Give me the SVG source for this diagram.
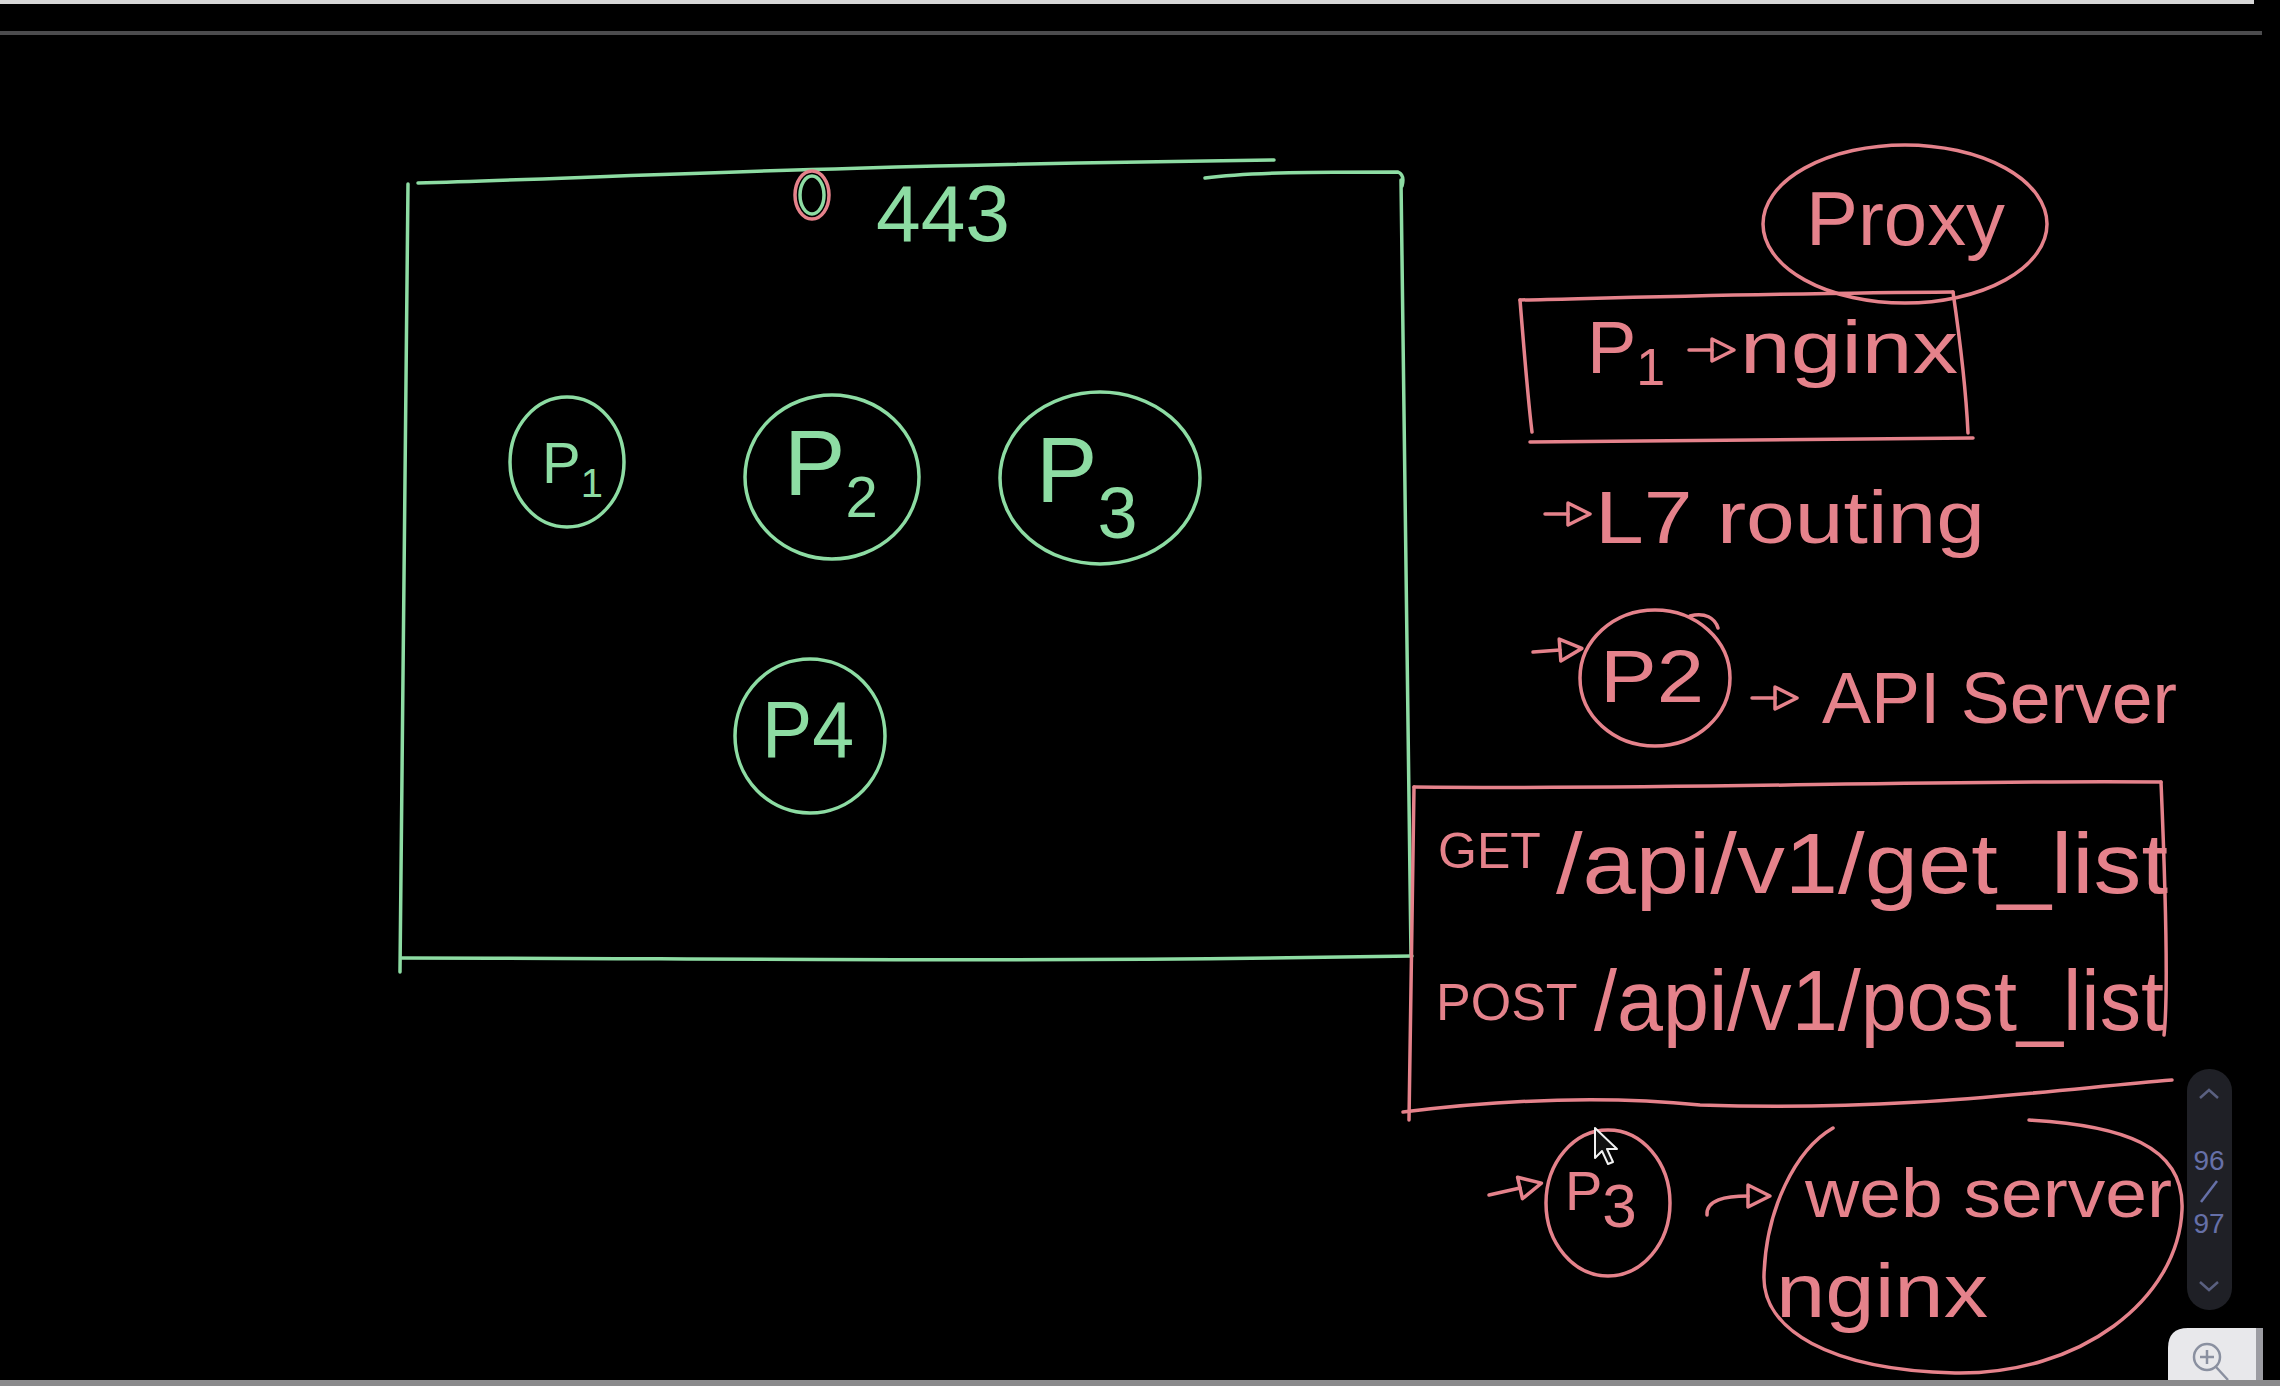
<svg xmlns="http://www.w3.org/2000/svg" width="2280" height="1386" viewBox="0 0 2280 1386">
<style>
.g{fill:none;stroke:#8ddca3;stroke-width:3.5;stroke-linecap:round;stroke-linejoin:round}
.r{fill:none;stroke:#e5828b;stroke-width:3.5;stroke-linecap:round;stroke-linejoin:round}
.gt{fill:#8ddca3;font-family:"Liberation Sans",Arial,sans-serif}
.rt{fill:#e5828b;font-family:"Liberation Sans",Arial,sans-serif}
.ui{fill:#6670a8;font-family:"Liberation Sans",Arial,sans-serif;font-size:28px;text-anchor:middle}
</style>
<defs>
<marker id="tri" markerUnits="userSpaceOnUse" markerWidth="30" markerHeight="30" viewBox="0 0 30 30" refX="4" refY="15" orient="auto">
<path d="M4 4 L26 15 L4 26 Z" fill="none" stroke="#e5828b" stroke-width="3.5" stroke-linejoin="round"/>
</marker>
</defs>
<rect x="0" y="0" width="2280" height="1386" fill="#000"/>
<rect x="0" y="0" width="2254" height="4" fill="#d8d8d8"/>
<rect x="0" y="31" width="2262" height="4" fill="#4c4c4e"/>

<g id="pod-box">
<path class="g" d="M418 183 C600 178 800 166 1274 160"/>
<path class="g" d="M1205 178 C1250 172 1320 172 1398 172 Q1405 175 1402 186"/>
<path class="g" d="M1401 180 L1411 956"/>
<path class="g" d="M408 184 L400 972"/>
<path class="g" d="M402 958 C700 958 1000 963 1412 956"/>
</g>

<g id="port-443">
<ellipse class="g" cx="812" cy="195" rx="12" ry="19"/>
<ellipse class="r" cx="812" cy="195" rx="17" ry="24"/>
<text class="gt" x="876" y="241" font-size="80" textLength="134" lengthAdjust="spacingAndGlyphs">443</text>
</g>

<g id="p1">
<ellipse class="g" cx="567" cy="462" rx="57" ry="65"/>
<text class="gt" x="542" y="483" font-size="58">P<tspan font-size="40" dy="14">1</tspan></text>
</g>
<g id="p2">
<ellipse class="g" cx="832" cy="477" rx="87" ry="82"/>
<text class="gt" x="784" y="495" font-size="92">P<tspan font-size="58" dy="22">2</tspan></text>
</g>
<g id="p3">
<ellipse class="g" cx="1100" cy="478" rx="100" ry="86"/>
<text class="gt" x="1036" y="502" font-size="92">P<tspan font-size="72" dy="36">3</tspan></text>
</g>
<g id="p4">
<ellipse class="g" cx="810" cy="736" rx="75" ry="77"/>
<text class="gt" x="762" y="757" font-size="80" textLength="92" lengthAdjust="spacingAndGlyphs">P4</text>
</g>

<g id="proxy">
<ellipse class="r" cx="1905" cy="224" rx="142" ry="79"/>
<text class="rt" x="1806" y="245" font-size="76" textLength="199" lengthAdjust="spacingAndGlyphs">Proxy</text>
</g>

<g id="p1-nginx">
<path class="r" d="M1520 300 C1650 297 1800 293 1953 292"/>
<path class="r" d="M1953 292 C1960 340 1966 390 1968 433"/>
<path class="r" d="M1530 442 C1700 440 1850 438 1973 438"/>
<path class="r" d="M1520 300 C1524 350 1528 400 1532 432"/>
<text class="rt" x="1587" y="373" font-size="74">P<tspan font-size="52" dy="12">1</tspan></text>
<text class="rt" x="1740" y="373" font-size="74" textLength="218" lengthAdjust="spacingAndGlyphs">nginx</text>
</g>

<g id="l7-routing">
<text class="rt" x="1595" y="543" font-size="75" textLength="390" lengthAdjust="spacingAndGlyphs">L7 routing</text>
</g>

<g id="p2-api">
<ellipse class="r" cx="1655" cy="678" rx="75" ry="68"/>
<path class="r" d="M1690 616 C1705 612 1715 618 1718 628"/>
<text class="rt" x="1600" y="702" font-size="74" textLength="104" lengthAdjust="spacingAndGlyphs">P2</text>
<text class="rt" x="1822" y="723" font-size="72" textLength="355" lengthAdjust="spacingAndGlyphs">API Server</text>
</g>

<g id="api-routes">
<path class="r" d="M1414 787 C1700 790 1900 780 2161 782"/>
<path class="r" d="M2161 782 C2166 900 2168 1000 2164 1035"/>
<path class="r" d="M1414 787 L1409 1120"/>
<path class="r" d="M1403 1112 C1500 1100 1600 1095 1700 1105 C1900 1112 2050 1090 2172 1080"/>
<text class="rt" x="1438" y="868" font-size="50">GET</text>
<text class="rt" x="1556" y="893" font-size="86" textLength="612" lengthAdjust="spacingAndGlyphs">/api/v1/get_list</text>
<text class="rt" x="1436" y="1020" font-size="52">POST</text>
<text class="rt" x="1594" y="1030" font-size="86" textLength="570" lengthAdjust="spacingAndGlyphs">/api/v1/post_list</text>
</g>

<g id="p3-web">
<ellipse class="r" cx="1608" cy="1203" rx="62" ry="73"/>
<text class="rt" x="1565" y="1210" font-size="56">P<tspan font-size="62" dy="17">3</tspan></text>
</g>

<g id="web-server-nginx">
<path class="r" d="M2029 1120 C2120 1125 2185 1145 2182 1210 C2178 1300 2080 1375 1955 1373 C1830 1370 1762 1330 1764 1275 C1766 1210 1795 1150 1833 1128"/>
<text class="rt" x="1805" y="1217" font-size="68" textLength="367" lengthAdjust="spacingAndGlyphs">web server</text>
<text class="rt" x="1776" y="1317" font-size="76" textLength="212" lengthAdjust="spacingAndGlyphs">nginx</text>
</g>

<g id="connectors">
<path class="r" d="M1689 350 L1712 350" marker-end="url(#tri)"/>
<path class="r" d="M1545 514 L1568 514" marker-end="url(#tri)"/>
<path class="r" d="M1533 652 L1560 650" marker-end="url(#tri)"/>
<path class="r" d="M1752 698 L1775 698" marker-end="url(#tri)"/>
<path class="r" d="M1489 1195 L1520 1188" marker-end="url(#tri)"/>
<path class="r" d="M1707 1215 C1706 1200 1725 1196 1748 1196" marker-end="url(#tri)"/>
</g>

<g id="cursor">
<path d="M1595 1128 L1595 1158 L1602 1151 L1608 1164 L1613 1162 L1607 1149 L1617 1149 Z" fill="#111" stroke="#f2f2f2" stroke-width="2" stroke-linejoin="round"/>
</g>

<g id="page-scroller">
<rect x="2187" y="1069" width="45" height="241" rx="22" fill="#1f2026"/>
<path d="M2200 1098 L2209 1090 L2218 1098" fill="none" stroke="#5a6080" stroke-width="2.5"/>
<text class="ui" x="2209" y="1170">96</text>
<path d="M2201 1202 L2217 1181" stroke="#6670a8" stroke-width="2.5"/>
<text class="ui" x="2209" y="1233">97</text>
<path d="M2200 1282 L2209 1290 L2218 1282" fill="none" stroke="#5a6080" stroke-width="2.5"/>
</g>

<g id="zoom-button">
<path d="M2168 1386 L2168 1348 Q2168 1328 2188 1328 L2258 1328 L2258 1386 Z" fill="#e8e8eb"/>
<rect x="2256" y="1328" width="7" height="58" fill="#9c9ca2"/>
<circle cx="2207" cy="1357" r="13" fill="none" stroke="#8a90a0" stroke-width="2.5"/>
<path d="M2200 1357 L2214 1357 M2207 1350 L2207 1364 M2216 1367 L2228 1380" stroke="#8a90a0" stroke-width="2.5"/>
</g>
<rect x="0" y="1380" width="2280" height="6" fill="#8a8a8c"/>
</svg>
